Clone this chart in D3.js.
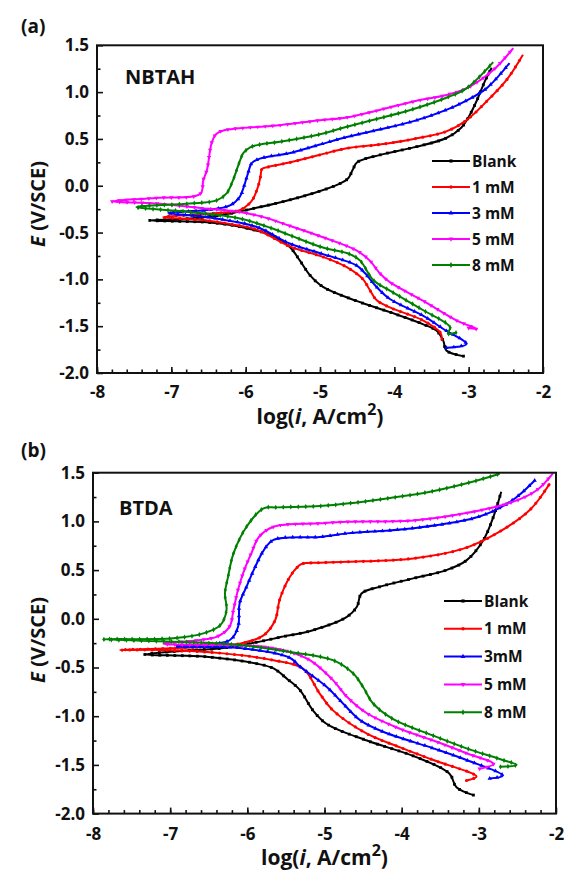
<!DOCTYPE html>
<html><head><meta charset="utf-8">
<script src="https://cdn.jsdelivr.net/npm/d3@7"></script>
<style>
body{margin:0;background:#fff}
svg text{font-family:"Open Sans",Lato,sans-serif;font-weight:bold;fill:#111}
</style>
</head><body><svg id="c" width="566" height="874"></svg>
<script>
// ---------- DATA (log(i, A/cm2), E V/SCE), path order: cathodic end -> Ecorr -> anodic end ----------
const xTicks = [-8,-7,-6,-5,-4,-3,-2];
const yTicks = [-2.0,-1.5,-1.0,-0.5,0.0,0.5,1.0,1.5];
const seriesNames = ["Blank","1 mM","3 mM","5 mM","8 mM"];
const seriesNamesB = ["Blank","1 mM","3mM","5 mM","8 mM"];
const seriesColors = ["#000000","#ff0000","#0000ff","#ff00ff","#008000"];

// Panel (a) NBTAH
const a_blank = [[-3.07,-1.82],[-3.30,-1.76],[-3.34,-1.66],[-3.43,-1.55],[-3.61,-1.48],[-4.06,-1.35],[-4.51,-1.23],[-4.96,-1.08],[-5.13,-0.96],[-5.27,-0.80],[-5.40,-0.66],[-5.62,-0.54],[-5.85,-0.48],[-6.20,-0.42],[-6.52,-0.39],[-6.90,-0.38],[-7.29,-0.37],
  [-6.75,-0.35],[-6.30,-0.31],[-5.94,-0.25],[-5.50,-0.17],[-5.09,-0.08],[-4.74,0.02],[-4.62,0.08],[-4.56,0.17],[-4.50,0.25],[-4.19,0.33],[-3.74,0.41],[-3.30,0.51],[-3.10,0.62],[-3.01,0.72],[-2.89,0.91],[-2.78,1.12],[-2.69,1.26]];
const a_1mM = [[-3.36,-1.64],[-3.38,-1.57],[-3.61,-1.44],[-4.06,-1.30],[-4.24,-1.22],[-4.34,-1.10],[-4.42,-1.00],[-4.64,-0.87],[-4.96,-0.76],[-5.40,-0.65],[-5.85,-0.47],[-6.20,-0.41],[-6.52,-0.37],[-7.11,-0.335],
  [-6.52,-0.30],[-6.08,-0.26],[-5.95,-0.19],[-5.90,-0.14],[-5.83,0.0],[-5.80,0.10],[-5.78,0.18],[-5.70,0.20],[-5.40,0.25],[-5.00,0.33],[-4.64,0.40],[-4.20,0.44],[-3.74,0.50],[-3.30,0.58],[-3.03,0.70],[-2.76,0.90],[-2.49,1.13],[-2.27,1.40]];
const a_3mM = [[-3.30,-1.73],[-3.03,-1.69],[-3.34,-1.53],[-3.61,-1.39],[-4.06,-1.21],[-4.24,-1.08],[-4.40,-0.93],[-4.51,-0.85],[-4.96,-0.73],[-5.40,-0.62],[-5.85,-0.44],[-6.52,-0.335],[-7.04,-0.29],
  [-6.52,-0.26],[-6.21,-0.21],[-6.08,-0.12],[-6.02,0.0],[-5.97,0.13],[-5.92,0.24],[-5.81,0.29],[-5.40,0.35],[-5.00,0.44],[-4.64,0.52],[-4.20,0.60],[-3.74,0.69],[-3.30,0.81],[-3.03,0.91],[-2.76,1.04],[-2.45,1.31]];
const a_5mM = [[-3.00,-1.52],[-2.89,-1.53],[-3.16,-1.44],[-3.61,-1.23],[-4.06,-1.03],[-4.19,-0.94],[-4.33,-0.80],[-4.51,-0.69],[-4.96,-0.55],[-5.40,-0.43],[-5.76,-0.335],[-6.08,-0.28],[-6.52,-0.245],[-7.20,-0.19],[-7.80,-0.167],
  [-7.20,-0.13],[-6.61,-0.085],[-6.57,0.06],[-6.52,0.17],[-6.46,0.45],[-6.40,0.55],[-6.30,0.59],[-5.54,0.647],[-5.00,0.70],[-4.64,0.73],[-4.20,0.81],[-3.74,0.90],[-3.30,0.97],[-3.03,1.04],[-2.67,1.235],[-2.40,1.47]];
const a_8mM = [[-3.17,-1.57],[-3.28,-1.58],[-3.25,-1.51],[-3.61,-1.33],[-4.06,-1.12],[-4.28,-1.01],[-4.46,-0.80],[-4.60,-0.73],[-4.96,-0.66],[-5.40,-0.53],[-5.63,-0.46],[-6.08,-0.35],[-6.75,-0.28],[-7.47,-0.228],
  [-6.75,-0.19],[-6.39,-0.156],[-6.26,-0.085],[-6.17,0.06],[-6.12,0.17],[-6.08,0.26],[-6.03,0.35],[-5.94,0.41],[-5.81,0.44],[-5.54,0.47],[-5.00,0.55],[-4.64,0.63],[-4.20,0.72],[-3.74,0.82],[-3.30,0.94],[-3.03,1.04],[-2.67,1.32]];

// Panel (b) BTDA
const b_blank = [[-3.07,-1.81],[-3.29,-1.73],[-3.38,-1.59],[-3.81,-1.42],[-4.45,-1.25],[-4.97,-1.08],[-5.15,-0.94],[-5.32,-0.73],[-5.48,-0.62],[-5.66,-0.51],[-5.88,-0.46],[-6.53,-0.39],[-7.33,-0.365],
  [-6.87,-0.33],[-6.31,-0.30],[-5.88,-0.24],[-5.58,-0.19],[-5.15,-0.117],[-4.71,0.02],[-4.58,0.123],[-4.52,0.26],[-4.28,0.33],[-3.85,0.415],[-3.42,0.50],[-3.16,0.60],[-2.94,0.81],[-2.81,1.05],[-2.71,1.305]];
const b_1mM = [[-3.16,-1.66],[-3.03,-1.62],[-3.59,-1.45],[-4.02,-1.32],[-4.45,-1.18],[-4.89,-0.94],[-5.06,-0.77],[-5.28,-0.51],[-5.66,-0.425],[-6.31,-0.355],[-7.11,-0.32],[-7.65,-0.32],
  [-6.74,-0.295],[-6.10,-0.255],[-5.79,-0.17],[-5.64,-0.015],[-5.58,0.20],[-5.45,0.43],[-5.34,0.54],[-5.29,0.565],[-5.06,0.576],[-4.71,0.585],[-3.85,0.62],[-3.20,0.72],[-2.77,0.877],[-2.34,1.117],[-2.08,1.39]];
const b_3mM = [[-2.86,-1.64],[-2.69,-1.61],[-3.16,-1.45],[-3.59,-1.33],[-4.24,-1.16],[-4.54,-1.04],[-4.76,-0.87],[-4.97,-0.70],[-5.32,-0.49],[-5.45,-0.40],[-6.10,-0.30],[-6.92,-0.28],
  [-6.23,-0.22],[-6.12,-0.08],[-6.10,0.16],[-6.01,0.33],[-5.90,0.53],[-5.79,0.70],[-5.66,0.81],[-5.06,0.84],[-4.71,0.877],[-3.85,0.93],[-2.99,1.05],[-2.56,1.22],[-2.27,1.425]];
const b_5mM = [[-2.99,-1.54],[-2.81,-1.49],[-3.16,-1.38],[-3.59,-1.25],[-4.02,-1.13],[-4.45,-0.97],[-4.71,-0.80],[-4.89,-0.63],[-5.19,-0.425],[-5.45,-0.34],[-5.88,-0.28],[-7.09,-0.255],
  [-6.40,-0.185],[-6.23,-0.08],[-6.18,0.09],[-6.12,0.30],[-6.04,0.50],[-5.95,0.67],[-5.85,0.84],[-5.66,0.945],[-5.06,0.98],[-4.71,0.996],[-3.85,1.01],[-3.20,1.08],[-2.56,1.20],[-2.25,1.32],[-2.04,1.494]];
const b_8mM = [[-2.72,-1.52],[-2.51,-1.50],[-2.73,-1.44],[-3.16,-1.33],[-3.59,-1.20],[-4.11,-1.03],[-4.37,-0.87],[-4.50,-0.70],[-4.63,-0.56],[-4.89,-0.425],[-5.45,-0.34],[-6.10,-0.27],[-6.74,-0.24],[-7.87,-0.21],
  [-6.96,-0.20],[-6.57,-0.15],[-6.35,-0.065],[-6.27,0.09],[-6.29,0.26],[-6.25,0.43],[-6.18,0.67],[-6.01,0.945],[-5.79,1.134],[-5.62,1.144],[-5.06,1.157],[-4.63,1.19],[-4.15,1.24],[-3.63,1.305],[-3.07,1.41],[-2.73,1.49]];

// ---------- DRAWING ----------
const svg = d3.select("#c");
const symbols = [d3.symbolSquare, d3.symbolCircle, d3.symbolTriangle, d3.symbolTriangle, d3.symbolDiamond];

function drawPanel(cfg) {
  const g = svg.append("g");
  const x = d3.scaleLinear().domain([-8,-2]).range([cfg.x0, cfg.x1]);
  const y = d3.scaleLinear().domain([-2,1.5]).range([cfg.y1, cfg.y0]);
  const line = d3.line().x(d => x(d[0])).y(d => y(d[1])).curve(d3.curveCatmullRom.alpha(0.5));

  cfg.series.forEach((s, i) => {
    const p = g.append("path").attr("d", line(s)).attr("fill","none")
      .attr("stroke", seriesColors[i]).attr("stroke-width", 2).attr("stroke-linejoin","round");
    const node = p.node(), L = node.getTotalLength();
    const sym = d3.symbol().type(symbols[i]).size(8);
    for (let l = 0; l <= L; l += 7.5) {
      const pt = node.getPointAtLength(l);
      g.append("path").attr("d", sym()).attr("fill", seriesColors[i])
        .attr("transform", `translate(${pt.x},${pt.y})${i===3?" rotate(180)":""}`);
    }
  });

  // axes (ticks inward)
  const xa = g.append("g").attr("transform", `translate(0,${cfg.y1})`)
    .call(d3.axisBottom(x).tickValues(xTicks).tickSize(-6).tickPadding(cfg.xpad).tickFormat(d => String(d)));
  g.append("g").attr("transform", `translate(0,${cfg.y1})`)
    .call(d3.axisBottom(x).tickValues(d3.range(-8,-2.001,0.2)).tickSize(-3.5).tickFormat(""));
  const ya = g.append("g").attr("transform", `translate(${cfg.x0},0)`)
    .call(d3.axisLeft(y).tickValues(yTicks).tickSize(-6).tickPadding(8).tickFormat(d => d.toFixed(1)));
  g.append("g").attr("transform", `translate(${cfg.x0},0)`)
    .call(d3.axisLeft(y).tickValues(d3.range(-1.75,1.5,0.5)).tickSize(-3.5).tickFormat(""));
  g.selectAll(".domain").remove();
  g.selectAll(".tick line").attr("stroke","#111").attr("stroke-width",1.6);
  [xa, ya].forEach(a => a.attr("font-family", null).attr("font-size", null));
  xa.selectAll("text").style("font-size","17px").attr("fill","#111");
  ya.selectAll("text").style("font-size","17px").attr("fill","#111");

  // frame
  g.append("rect").attr("x", cfg.x0).attr("y", cfg.y0).attr("width", cfg.x1-cfg.x0).attr("height", cfg.y1-cfg.y0)
    .attr("fill","none").attr("stroke","#111").attr("stroke-width",2);

  // panel letter
  g.append("text").attr("x", 21).attr("y", cfg.letterY).style("font-size","19px").text(cfg.letter);
  // compound label
  g.append("text").attr("x", cfg.nameX).attr("y", cfg.nameY).style("font-size","20px").text(cfg.name);

  // x title
  const xt = g.append("text").attr("x", (cfg.x0+cfg.x1)/2).attr("y", cfg.xTitleY).attr("text-anchor","middle").style("font-size","21px");
  xt.append("tspan").text("log(");
  xt.append("tspan").style("font-style","italic").text("i");
  xt.append("tspan").text(", A/cm");
  xt.append("tspan").attr("dy", -9).style("font-size","16px").text("2");
  xt.append("tspan").attr("dy", 9).text(")");

  // y title
  const yt = g.append("text").attr("transform", `translate(45,${cfg.yTitleY}) rotate(-90)`).attr("text-anchor","middle").style("font-size","20px");
  yt.append("tspan").style("font-style","italic").text("E");
  yt.append("tspan").text(" (V/SCE)");

  // legend
  cfg.legendNames.forEach((n, i) => {
    const ly = cfg.legY + i*cfg.legDy;
    g.append("line").attr("x1", cfg.legX).attr("x2", cfg.legX+38).attr("y1", ly).attr("y2", ly)
      .attr("stroke", seriesColors[i]).attr("stroke-width", 2);
    g.append("path").attr("d", d3.symbol().type(symbols[i]).size(10)()).attr("fill", seriesColors[i])
      .attr("transform", `translate(${cfg.legX+19},${ly})${i===3?" rotate(180)":""}`);
    g.append("text").attr("x", cfg.legX+40).attr("y", ly).attr("dy","0.36em").style("font-size","15.5px").text(n);
  });
}

drawPanel({x0:97, x1:543, y0:45.3, y1:373, xpad:13, series:[a_blank,a_1mM,a_3mM,a_5mM,a_8mM],
  letter:"(a)", letterY:33, name:"NBTAH", nameX:125, nameY:84, xTitleY:424, yTitleY:204,
  legendNames: seriesNames, legX:432, legY:161, legDy:26});
drawPanel({x0:93, x1:556, y0:472.7, y1:813.6, xpad:14, series:[b_blank,b_1mM,b_3mM,b_5mM,b_8mM],
  letter:"(b)", letterY:457, name:"BTDA", nameX:119, nameY:515, xTitleY:865, yTitleY:640,
  legendNames: seriesNamesB, legX:444, legY:601, legDy:27.8});
</script></body></html>
